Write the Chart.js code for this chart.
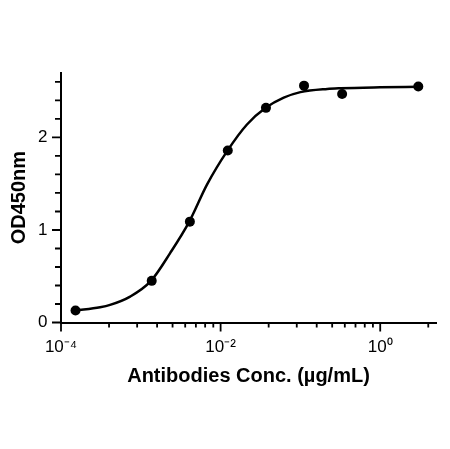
<!DOCTYPE html>
<html>
<head>
<meta charset="utf-8">
<script src="https://cdn.jsdelivr.net/npm/chart.js@4.4.1/dist/chart.umd.min.js"></script>
<style>
  html, body { margin: 0; padding: 0; background: #fff; }
  #wrap { width: 450px; height: 449px; }
</style>
</head>
<body>
<div id="wrap"><canvas id="myChart"></canvas></div>
<script>
// measured points (µg/mL vs OD450)
const conc = [0.000152, 0.00137, 0.00412, 0.0123, 0.037, 0.111, 0.333, 3]
const od = [0.13, 0.45, 1.09, 1.86, 2.32, 2.56, 2.47, 2.55]

// fitted curve
const curveConc = [0.000152, 0.000309, 0.000412, 0.000735, 0.00134, 0.00233, 0.00405, 0.00675,
    0.01225, 0.0214, 0.0367, 0.0618, 0.1, 0.217, 0.318, 1, 3]
const curveOd = [0.13, 0.165, 0.19, 0.28, 0.45, 0.75, 1.09, 1.49,
    1.86, 2.14, 2.32, 2.43, 2.49, 2.525, 2.532, 2.542, 2.548]

const xMajorTicks = [1e-4, 1e-2, 1]
const xTickLabels = ['10⁻⁴', '10⁻²', '10⁰']
const minorSteps = [2, 3, 4, 5, 6, 7, 8, 9]
const yMajorTicks = [0, 1, 2]
const yTickLabels = ['0', '1', '2']
const yMinorTicks = [0.2, 0.4, 0.6, 0.8, 1.2, 1.4, 1.6, 1.8, 2.2, 2.4, 2.6]

const X_MIN = 1e-4, X_MAX = 5, Y_MIN = 0, Y_MAX = 2.7

// GraphPad style: majors every 2 decades, minors spaced like 2..9 inside
function xTicks() {
    const out = []
    xMajorTicks.forEach((m) => {
        out.push({ value: m, major: true })
        minorSteps.forEach((k) => {
            const v = m * k * k
            if (v <= X_MAX) out.push({ value: v, major: false })
        })
    })
    return out.sort((a, b) => a.value - b.value)
}

function yTicks() {
    const out = yMajorTicks.map((v) => ({ value: v, major: true }))
    yMinorTicks.forEach((v) => out.push({ value: v, major: false }))
    return out.sort((a, b) => a.value - b.value)
}

// draws major/minor tick marks with different lengths
const tickMarks = {
    id: 'tickMarks',
    afterDraw(chart) {
        const c = chart.ctx
        const xs = chart.scales.x
        const ys = chart.scales.y
        c.save()
        c.strokeStyle = '#000'
        c.lineWidth = 1.8
        c.beginPath()
        xs.ticks.forEach((t) => {
            const p = xs.getPixelForValue(t.value)
            const len = t.major ? 9 : 5
            c.moveTo(p, xs.top)
            c.lineTo(p, xs.top + len)
        })
        ys.ticks.forEach((t) => {
            const p = ys.getPixelForValue(t.value)
            const len = t.major ? 9 : 6
            c.moveTo(ys.right, p)
            c.lineTo(ys.right - len, p)
        })
        c.stroke()
        c.restore()
    },
}

const font = 'Liberation Sans, Arial, Helvetica, sans-serif'

new Chart(document.getElementById('myChart'), {
    type: 'scatter',
    data: {
        datasets: [
            {
                label: 'fit',
                data: curveConc.map((x, i) => ({ x: x, y: curveOd[i] })),
                showLine: true,
                pointRadius: 0,
                borderColor: '#000',
                borderWidth: 2.5,
                cubicInterpolationMode: 'monotone',
            },
            {
                label: 'OD450',
                data: conc.map((x, i) => ({ x: x, y: od[i] })),
                pointRadius: 5,
                pointBackgroundColor: '#000',
                pointBorderColor: '#000',
                pointBorderWidth: 0,
            },
        ],
    },
    options: {
        responsive: true,
        maintainAspectRatio: false,
        animation: false,
        layout: { padding: { left: 0, right: 14, top: 72.7, bottom: 0 } },
        plugins: {
            legend: { display: false },
            tooltip: { enabled: false },
        },
        scales: {
            x: {
                type: 'logarithmic',
                min: X_MIN,
                max: X_MAX,
                afterBuildTicks: (scale) => { scale.ticks = xTicks() },
                afterFit: (scale) => { scale.height = 126.5 },
                grid: { drawOnChartArea: false, color: 'rgba(0,0,0,0)', tickLength: 9 },
                border: { color: '#000', width: 2 },
                ticks: {
                    autoSkip: false,
                    maxRotation: 0,
                    padding: 6,
                    color: '#000',
                    font: { family: font, size: 17 },
                    callback: (v) => {
                        const i = xMajorTicks.findIndex((m) => Math.abs(Math.log10(m) - Math.log10(v)) < 1e-9)
                        return i >= 0 ? xTickLabels[i] : ''
                    },
                },
                title: {
                    display: true,
                    text: 'Antibodies Conc. (µg/mL)',
                    color: '#000',
                    font: { family: font, size: 20, weight: 'bold' },
                    padding: { top: 0, bottom: 60.6 },
                },
            },
            y: {
                min: Y_MIN,
                max: Y_MAX,
                afterBuildTicks: (scale) => { scale.ticks = yTicks() },
                afterFit: (scale) => { scale.width = 61 },
                grid: { drawOnChartArea: false, color: 'rgba(0,0,0,0)', tickLength: 9 },
                border: { color: '#000', width: 2 },
                ticks: {
                    autoSkip: false,
                    padding: 4.5,
                    color: '#000',
                    font: { family: font, size: 17 },
                    callback: (v) => {
                        const i = yMajorTicks.findIndex((m) => Math.abs(m - v) < 1e-9)
                        return i >= 0 ? yTickLabels[i] : ''
                    },
                },
                title: {
                    display: true,
                    text: 'OD450nm',
                    color: '#000',
                    font: { family: font, size: 20, weight: 'bold' },
                    padding: { top: 7.8, bottom: 0 },
                },
            },
        },
    },
    plugins: [tickMarks],
})
</script>
</body>
</html>
